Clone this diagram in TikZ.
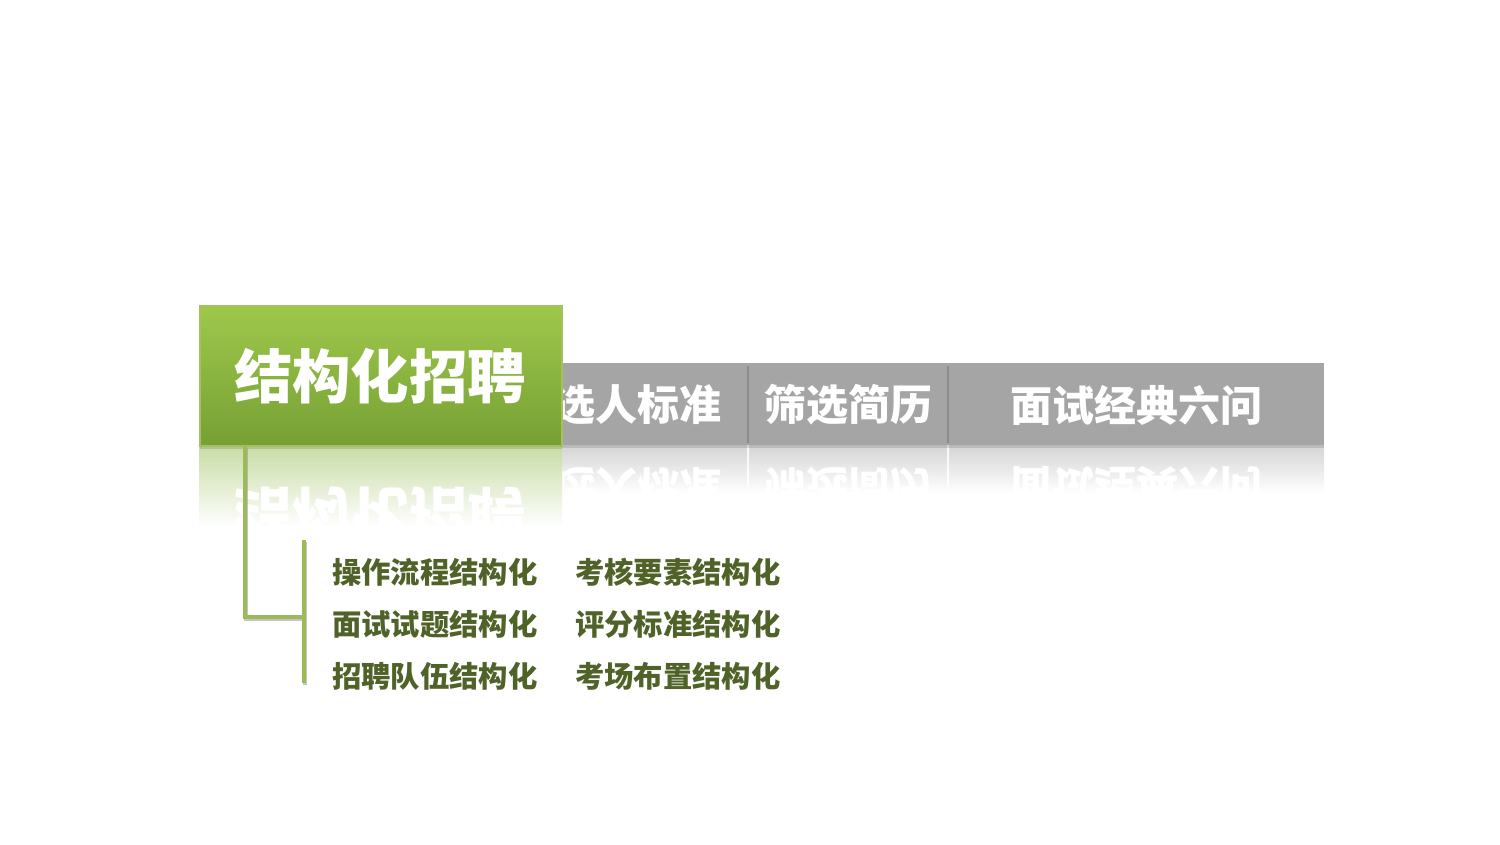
\documentclass[tikz,border=0pt]{standalone}
\usepackage{fontspec}
\newfontfamily\cjk{Noto Sans CJK SC}
\usetikzlibrary{shadows,calc}
\definecolor{gtop}{RGB}{158,200,75}
\definecolor{gbot}{RGB}{118,160,52}
\definecolor{gedge}{RGB}{160,196,90}
\definecolor{lnc}{RGB}{155,187,89}
\definecolor{barc}{RGB}{165,165,165}
\definecolor{divc}{RGB}{140,140,140}
\definecolor{olivetxt}{RGB}{79,98,40}
\definecolor{grefl}{RGB}{200,220,165}
\definecolor{barefl}{RGB}{212,212,212}
\tikzset{
  gbox/.style={draw=gedge, line width=1.5pt, top color=gtop, bottom color=gbot,
    minimum width=271.5pt, minimum height=105pt, anchor=north west, inner sep=0pt,
    drop shadow={shadow xshift=0pt, shadow yshift=-2pt, opacity=0.3}},
  bar/.style={fill=barc, minimum width=597.75pt, minimum height=61.5pt,
    anchor=north west, inner sep=0pt,
    drop shadow={shadow xshift=0pt, shadow yshift=-2pt, opacity=0.3}},
  titletxt/.style={text=white, font=\cjk\bfseries\fontsize{43.8}{43.8}\selectfont, inner sep=0pt},
  tabtxt/.style={text=white, font=\cjk\bfseries\fontsize{31.5}{31.5}\selectfont, inner sep=0pt},
  item/.style={text=olivetxt, font=\cjk\bfseries\fontsize{22}{22}\selectfont, anchor=west, inner sep=0pt},
  conn/.style={draw=lnc, line width=2.6pt},
  connsh/.style={draw=black!45, line width=2.6pt, opacity=0.5},
  divider/.style={draw=divc, line width=0.8pt},
}
\begin{document}
\begin{tikzpicture}[x=0.75pt,y=-0.75pt]
\useasboundingbox[fill=white] (0,0) rectangle (1500,844);

% reflection of gray bar
\shade[top color=barefl, bottom color=white] (527,445) rectangle (1324,493);
\begin{scope}
\clip (527,445) rectangle (1324,493);
\node[tabtxt, yscale=-1] (r1) at (637,487) {选人标准};
\node[tabtxt, yscale=-1] (r2) at (848,487) {筛选简历};
\node[tabtxt, yscale=-1] (r3) at (1136,487) {面试经典六问};
\end{scope}
\shade[top color=white!80!barefl, bottom color=white] (747,445) rectangle (749,485);
\shade[top color=white!80!barefl, bottom color=white] (947,445) rectangle (949,485);

% gray bar
\node[bar] (graybar) at (527,363) {};
\draw[divider] (748,366) -- (748,443);
\draw[divider] (948,366) -- (948,443);
\node[tabtxt] (t1) at (637,405) {选人标准};
\node[tabtxt] (t2) at (848,405) {筛选简历};
\node[tabtxt] (t3) at (1136,405) {面试经典六问};

% reflection of green box
\shade[top color=grefl, bottom color=white] (199,446) rectangle (562,527);
\begin{scope}
\clip (199,446) rectangle (562,527);
\node[titletxt, yscale=-1] (rt) at (380,515) {结构化招聘};
\end{scope}

% green box
\node[gbox] (gbox) at (199,305) {};
\node[titletxt] (title) at (380,376) {结构化招聘};

% connectors
\coordinate (c0) at (245,446);
\coordinate (cm) at (304,617);
\coordinate (bt) at (304,540);
\coordinate (bb) at (304,683);
\draw[connsh] ($(c0)+(1,2)$) |- ($(cm)+(1,2)$);
\draw[connsh] ($(bt)+(1,2)$) -- ($(bb)+(1,2)$);
\draw[conn] (c0) |- (cm);
\draw[conn] (bt) -- (bb);

% list
\node[item] (i1) at (332,572) {操作流程结构化};
\node[item] (i2) at (332,624) {面试试题结构化};
\node[item] (i3) at (332,676) {招聘队伍结构化};
\node[item] (j1) at (575,572) {考核要素结构化};
\node[item] (j2) at (575,624) {评分标准结构化};
\node[item] (j3) at (575,676) {考场布置结构化};
\end{tikzpicture}
\end{document}
